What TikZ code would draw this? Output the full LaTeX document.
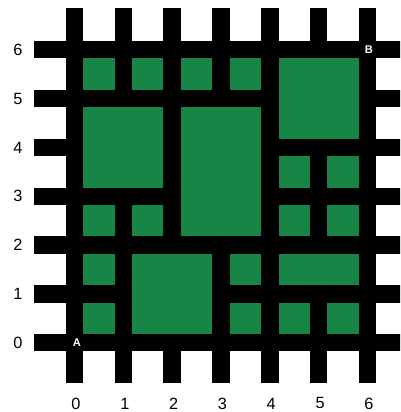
\documentclass[tikz,border=0pt]{standalone}
\usepackage{fontspec}
\setmainfont{Liberation Sans}
\definecolor{parkgreen}{RGB}{23,133,69}
\begin{document}
\begin{tikzpicture}[x=1cm,y=1cm,
  street/.style={line width=0.357cm, line cap=butt},
  lab/.style={font=\fontsize{9.5}{11}\selectfont, text=black, inner sep=0pt},
  corner/.style={font=\bfseries\fontsize{6.5}{8}\selectfont, text=white, inner sep=0pt}]
\useasboundingbox (-1.527,-1.42) rectangle (6.67,7.02);
\clip (-1.527,-1.42) rectangle (6.67,7.02);
\fill[parkgreen] (0,0) rectangle (6,6);
% horizontal streets
\draw[street] (-0.84,0) -- (6.84,0);
\draw[street] (-0.84,1) -- (1,1);
\draw[street] (3,1) -- (6.84,1);
\draw[street] (-0.84,2) -- (6.84,2);
\draw[street] (-0.84,3) -- (2,3);
\draw[street] (4,3) -- (6.84,3);
\draw[street] (-0.84,4) -- (0,4);
\draw[street] (4,4) -- (6.84,4);
\draw[street] (-0.84,5) -- (4,5);
\draw[street] (6,5) -- (6.84,5);
\draw[street] (-0.84,6) -- (6.84,6);
% vertical streets
\draw[street] (0,-0.82) -- (0,6.85);
\draw[street] (1,-0.82) -- (1,3);
\draw[street] (1,5) -- (1,6.85);
\draw[street] (2,-0.82) -- (2,0);
\draw[street] (2,2) -- (2,6.85);
\draw[street] (3,-0.82) -- (3,2);
\draw[street] (3,5) -- (3,6.85);
\draw[street] (4,-0.82) -- (4,6.85);
\draw[street] (5,-0.82) -- (5,1);
\draw[street] (5,2) -- (5,4);
\draw[street] (5,6) -- (5,6.85);
\draw[street] (6,-0.82) -- (6,6.85);
% axis labels
\foreach \i in {0,...,6} {
  \node[lab] (xl\i) at (\i+0.03,-1.245) {\i};
  \node[lab] (yl\i) at (-1.16,\i) {\i};
}
\node[corner] (A) at (0.05,0) {A};
\node[corner] (B) at (6.03,6) {B};
\end{tikzpicture}
\end{document}
